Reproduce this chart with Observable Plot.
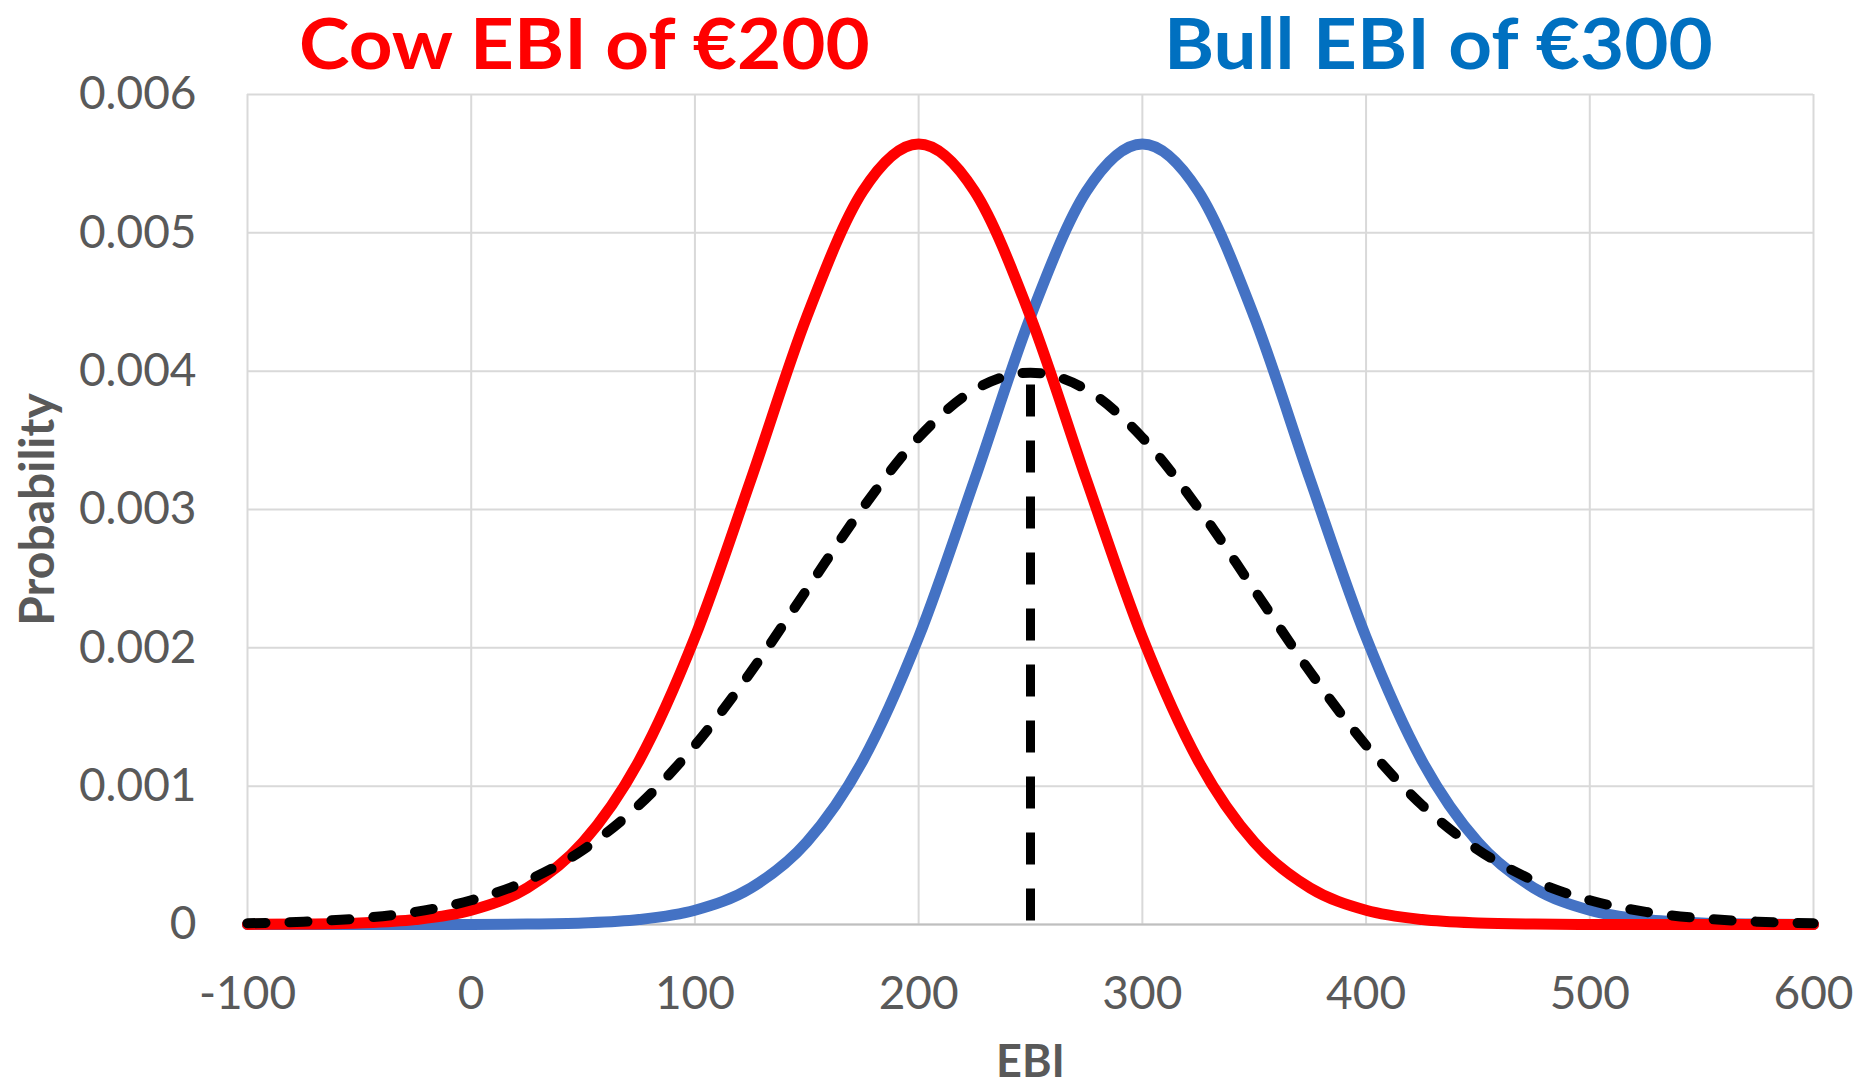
<!DOCTYPE html>
<html>
<head>
<meta charset="utf-8">
<script src="https://cdn.jsdelivr.net/npm/d3@7"></script>
<script src="https://cdn.jsdelivr.net/npm/@observablehq/plot@0.6"></script>
<style>
  html, body { margin: 0; padding: 0; background: #fff; }
  #wrap { position: relative; width: 1862px; height: 1088px; overflow: hidden; font-family: Lato, "Open Sans", sans-serif; }
  .title { position: absolute; top: 0; font-family: Lato, sans-serif; font-weight: bold; font-size: 70px; line-height: normal; white-space: nowrap; transform: scaleX(1.09); transform-origin: 0 0; }
  #t1 { left: 299px; color: #FF0000; }
  #t2 { left: 1164px; color: #0070C0; }
  #chart { position: absolute; left: 0; top: 0; }
</style>
</head>
<body>
<div id="wrap">
  <div id="chart"></div>
  <div class="title" id="t1">Cow EBI of €200</div>
  <div class="title" id="t2">Bull EBI of €300</div>
</div>
<script>
// EBI values (x) sampled every 25 units
const ebi = [-100, -75, -50, -25, 0, 25, 50, 75, 100, 125, 150, 175, 200, 225, 250, 275, 300, 325, 350, 375, 400, 425, 450, 475, 500, 525, 550, 575, 600];
// Cow EBI €200 distribution (red)
const cowProb = [0.0000007, 0.0000029, 0.0000109, 0.0000357, 0.000103, 0.000264, 0.000595, 0.001183, 0.002076, 0.003215, 0.004394, 0.005300, 0.005642, 0.005300, 0.004394, 0.003215, 0.002076, 0.001183, 0.000595, 0.000264, 0.000103, 0.0000357, 0.0000109, 0.0000029, 0.0000007, 0.0000002, 0, 0, 0];
// Bull EBI €300 distribution (blue)
const bullProb = [0, 0, 0, 0.0000002, 0.0000007, 0.0000029, 0.0000109, 0.0000357, 0.000103, 0.000264, 0.000595, 0.001183, 0.002076, 0.003215, 0.004394, 0.005300, 0.005642, 0.005300, 0.004394, 0.003215, 0.002076, 0.001183, 0.000595, 0.000264, 0.000103, 0.0000357, 0.0000109, 0.0000029, 0.0000007];
// Offspring distribution (black dashed)
const calfProb = [0.0000087, 0.0000203, 0.0000443, 0.0000910, 0.000175, 0.000317, 0.000540, 0.000863, 0.001295, 0.001826, 0.002420, 0.003011, 0.003520, 0.003866, 0.003989, 0.003866, 0.003520, 0.003011, 0.002420, 0.001826, 0.001295, 0.000863, 0.000540, 0.000317, 0.000175, 0.0000910, 0.0000443, 0.0000203, 0.0000087];
// Offspring mean marker
const calfMean = [250];
const calfMeanTop = [0.0039];
// Axis ticks
const xTicks = [-100, 0, 100, 200, 300, 400, 500, 600];
const yTicks = [0, 0.001, 0.002, 0.003, 0.004, 0.005, 0.006];
const xLabel = "EBI";
const yLabel = "Probability";

const toRows = (ys) => ebi.map((x, i) => ({x, y: ys[i]}));
const meanRows = calfMean.map((x, i) => ({x, top: calfMeanTop[i]}));

const gridColor = "#d9d9d9";
const textColor = "#595959";

const chart = Plot.plot({
  width: 1862,
  height: 1088,
  marginLeft: 247,
  marginRight: 49,
  marginTop: 94,
  marginBottom: 164,
  style: { fontFamily: "Lato, 'Open Sans', sans-serif", color: textColor, background: "white" },
  x: { domain: [-100, 600], ticks: xTicks },
  y: { domain: [0, 0.006], ticks: yTicks },
  marks: [
    Plot.gridX(xTicks, { stroke: gridColor, strokeOpacity: 1, strokeWidth: 2 }),
    Plot.gridY(yTicks, { stroke: gridColor, strokeOpacity: 1, strokeWidth: 2 }),
    Plot.ruleY([0], { stroke: "#bfbfbf", strokeWidth: 2 }),
    Plot.axisX(xTicks, { tickSize: 0, tickPadding: 52, fontSize: 46, fill: textColor, tickFormat: d => String(d), label: null }),
    Plot.axisY(yTicks, { tickSize: 0, tickPadding: 51, fontSize: 46, fill: textColor, tickFormat: d => d === 0 ? "0" : d.toFixed(3), label: null }),
    Plot.line(toRows(bullProb), { x: "x", y: "y", stroke: "#4472C4", strokeWidth: 11, curve: "monotone-x" }),
    Plot.line(toRows(cowProb), { x: "x", y: "y", stroke: "#FF0000", strokeWidth: 11, curve: "monotone-x" }),
    Plot.line(toRows(calfProb), { x: "x", y: "y", stroke: "#000000", strokeWidth: 10, curve: "monotone-x", strokeDasharray: "18,24", strokeLinecap: "round" }),
    Plot.ruleX(meanRows, { x: "x", y1: "top", y2: 0, stroke: "#000000", strokeWidth: 9, strokeDasharray: "32,24", strokeLinecap: "butt" }),
    Plot.text([xLabel], { frameAnchor: "bottom", textAnchor: "middle", lineAnchor: "middle", dy: 138, fontSize: 45, fontWeight: "bold", fill: textColor }),
    Plot.text([yLabel], { frameAnchor: "left", textAnchor: "middle", lineAnchor: "middle", dx: -209, rotate: -90, fontSize: 48, fontWeight: "bold", fill: textColor })
  ]
});
document.getElementById("chart").appendChild(chart);
</script>
</body>
</html>
